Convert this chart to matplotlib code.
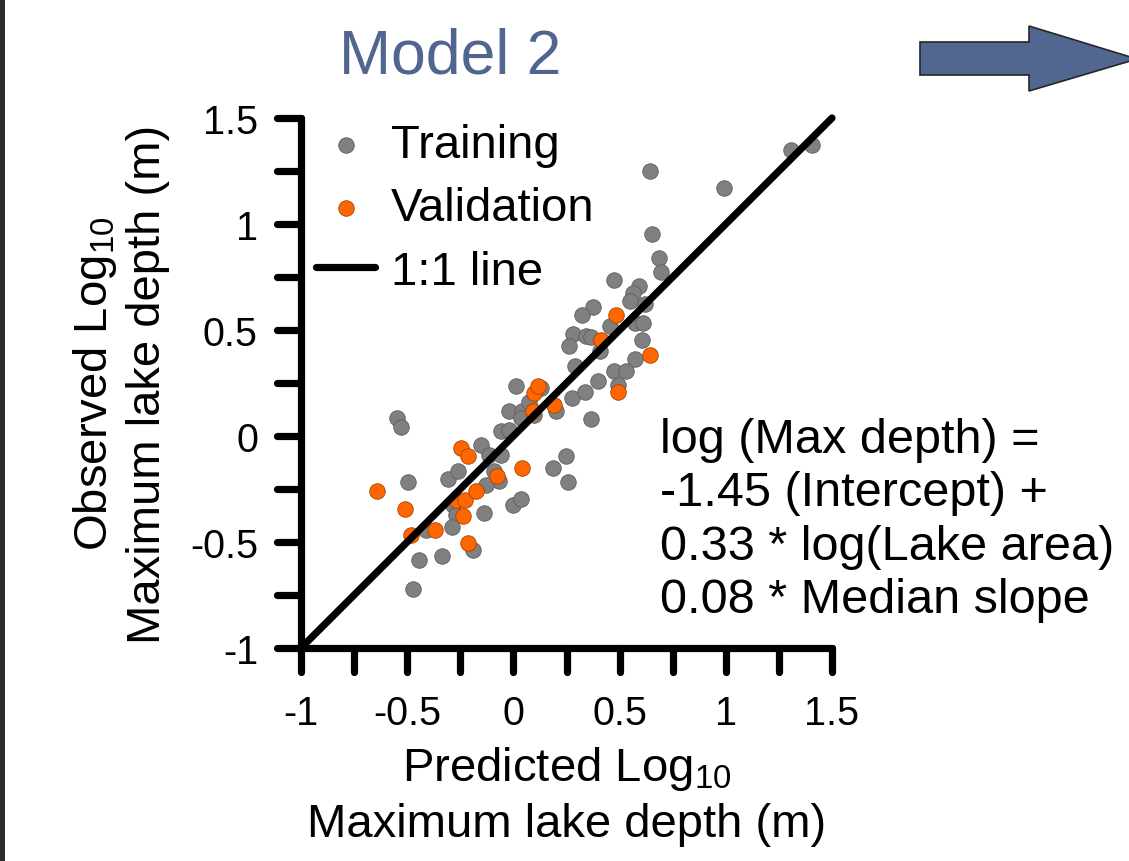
import matplotlib as mpl
mpl.use("Agg")
import matplotlib.pyplot as plt
from matplotlib.markers import MarkerStyle
from matplotlib.patches import Polygon, Rectangle
from matplotlib.ticker import MultipleLocator

# Model 2: predicted vs observed log10 maximum lake depth (m)
train_pred = [
    -0.55, -0.527, -0.497, 0.013, 0.13, -0.022, 0.041, 0.036, 0.099, 0.075,
    -0.058, -0.019, -0.152, -0.113, -0.058, -0.31, -0.263, -0.09, -0.066, -0.129,
    -0.286, -0.271, -0.14, 0.0, 0.036, -0.29, -0.412, -0.443, -0.338, -0.475,
    -0.192, 0.186, 0.249, 0.256, 0.277, 0.335, 0.398, 0.367, 0.20, 0.642,
    0.991, 1.305, 1.407, 0.654, 0.686, 0.693, 0.472, 0.59, 0.563, 0.551,
    0.618, 0.374, 0.322, 0.571, 0.61, 0.453, 0.28, 0.343, 0.367, 0.261,
    0.605, 0.406, 0.573, 0.288, 0.474, 0.532, 0.492,
]
train_obs = [
    0.085, 0.044, -0.218, 0.234, 0.226, 0.12, 0.12, 0.085, 0.10, 0.16,
    0.022, 0.03, -0.041, -0.088, -0.088, -0.203, -0.166, -0.166, -0.214, -0.23,
    -0.324, -0.371, -0.363, -0.324, -0.297, -0.43, -0.442, -0.583, -0.567, -0.72,
    -0.536, -0.151, -0.093, -0.218, 0.179, 0.206, 0.258, 0.082, 0.117, 1.249,
    1.17, 1.351, 1.372, 0.954, 0.84, 0.774, 0.737, 0.709, 0.675, 0.638,
    0.623, 0.607, 0.572, 0.533, 0.533, 0.517, 0.481, 0.47, 0.466, 0.423,
    0.452, 0.40, 0.365, 0.329, 0.305, 0.305, 0.242,
]
valid_pred = [
    -0.64, -0.511, -0.48, -0.368, -0.247, -0.215, -0.27, -0.226, -0.176, -0.236,
    -0.212, -0.077, 0.042, 0.094, 0.096, 0.115, 0.19, 0.481, 0.413, 0.642, 0.492,
]
valid_obs = [
    -0.258, -0.344, -0.465, -0.442, -0.057, -0.096, -0.30, -0.30, -0.258, -0.375,
    -0.505, -0.19, -0.151, 0.117, 0.203, 0.234, 0.148, 0.569, 0.451, 0.384, 0.208,
]

one_to_one = [-1, 1.5]
tick_values = [-1, -0.5, 0, 0.5, 1, 1.5]
tick_labels = ["-1", "-0.5", "0", "0.5", "1", "1.5"]

equation = ("log (Max depth) =\n-1.45 (Intercept) +\n"
            "0.33 * log(Lake area) +\n0.08 * Median slope")

plt.rcParams["font.family"] = ["Liberation Sans", "DejaVu Sans"]
plt.rcParams["mathtext.fontset"] = "custom"
plt.rcParams["mathtext.rm"] = "Liberation Sans"
plt.rcParams["mathtext.default"] = "regular"

W, H = 1129, 862
fig = plt.figure(figsize=(W / 100, H / 100), dpi=100)
ax = fig.add_axes([301 / W, 1 - 649 / H, 531 / W, 530 / H])

ax.scatter(train_pred, train_obs, s=125, c="#808080", edgecolors="#5e5e5e",
           linewidths=0.6, label="Training", zorder=2)
ax.scatter(valid_pred, valid_obs, s=125, c="#ff6600", edgecolors="#a84300",
           linewidths=0.6, label="Validation", zorder=3)
ax.plot(one_to_one, one_to_one, color="black", lw=5.2, solid_capstyle="round",
        label="1:1 line", zorder=4, clip_on=False)

ax.set_xlim(-1, 1.5)
ax.set_ylim(-1, 1.5)
ax.set_xticks(tick_values, tick_labels)
ax.set_yticks(tick_values, tick_labels)
ax.xaxis.set_minor_locator(MultipleLocator(0.25))
ax.yaxis.set_minor_locator(MultipleLocator(0.25))
ax.tick_params(which="both", direction="out", length=17, width=5.2, color="black")
ax.tick_params(axis="x", labelsize=28.5, pad=16)
ax.tick_params(axis="y", labelsize=28.5, pad=14)

for side in ("top", "right"):
    ax.spines[side].set_visible(False)
for side in ("left", "bottom"):
    ax.spines[side].set_linewidth(5.2)
    ax.spines[side].set_capstyle("round")

# rounded tick ends like the original
for axis in (ax.xaxis, ax.yaxis):
    for tick in axis.get_major_ticks() + axis.get_minor_ticks():
        line = tick.tick1line
        line.set_marker(MarkerStyle(line.get_marker(), capstyle="round"))

ax.set_xlabel("Predicted Log$_{10}$\nMaximum lake depth (m)", fontsize=34, linespacing=1.3)
ax.xaxis.set_label_coords(0.5, (649 - 745) / 530)
ax.set_ylabel("Observed Log$_{10}$\nMaximum lake depth (m)", fontsize=34, linespacing=1.22)
ax.yaxis.set_label_coords((170 - 301) / 531, 0.5)

ax.legend(loc="upper left", bbox_to_anchor=(316 / W, 1 - 124 / H),
          bbox_transform=fig.transFigure, frameon=False, fontsize=34,
          handlelength=1.25, handletextpad=0.33, labelspacing=0.41,
          borderpad=0, borderaxespad=0, markerscale=1)

fig.text(450 / W, 1 - 73 / H, "Model 2", fontsize=45, color="#50658f",
         ha="center", va="baseline")
fig.text(660 / W, 1 - 418 / H, equation, fontsize=35, ha="left", va="top",
         linespacing=1.24)

# arrow pointing to the next panel (cut off at the right edge)
arrow_px = [(920, 43), (1029, 43), (1029, 27), (1137, 60),
            (1029, 92), (1029, 76), (920, 76)]
fig.add_artist(Polygon([(x / W, 1 - y / H) for x, y in arrow_px],
                       closed=True, transform=fig.transFigure,
                       facecolor="#52678f", edgecolor="#262626", lw=1.2))
fig.add_artist(Rectangle((0, 0), 5 / W, 1, transform=fig.transFigure,
                         facecolor="#2b2b2b", edgecolor="none"))

fig.savefig("out.png", dpi=100)
